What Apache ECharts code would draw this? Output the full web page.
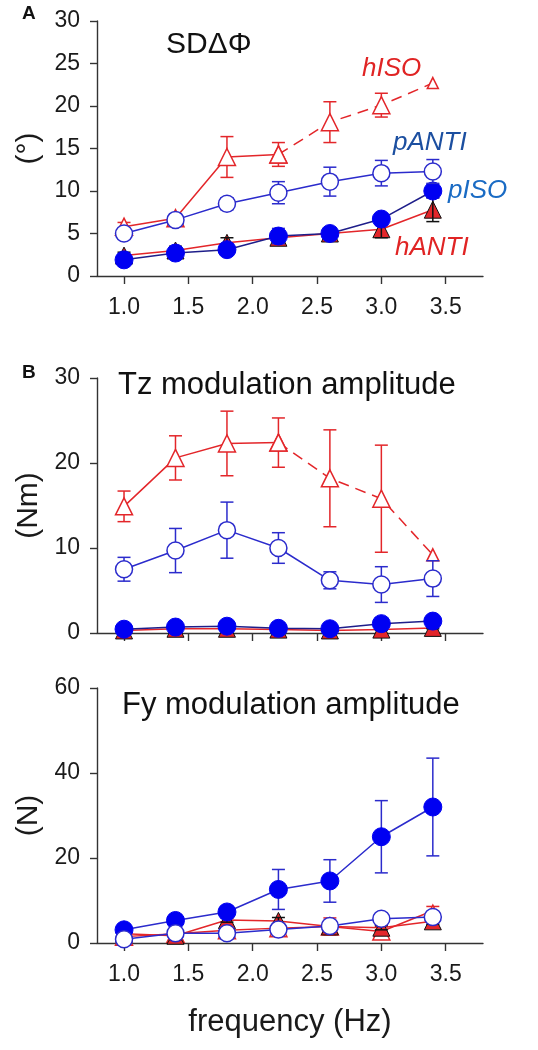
<!DOCTYPE html>
<html><head><meta charset="utf-8">
<script src="https://cdn.jsdelivr.net/npm/echarts@6/dist/echarts.min.js"></script>
<style>html,body{margin:0;padding:0;background:#fff}#c{width:538px;height:1050px}</style>
</head><body><div id="c"></div>
<script>
// ---- data ----
const freq = [1.0, 1.4, 1.8, 2.2, 2.6, 3.0, 3.4];
const xTicks = [1.0, 1.5, 2.0, 2.5, 3.0, 3.5];

// Panel A: SD delta phi (deg)
const sd_hISO = [5.8, 6.8, 14.0, 14.3, 18.1, 20.1, 22.7];
const sd_hISO_err = [0.5, 0.4, 2.4, 1.4, 2.4, 1.4, 0];
const sd_pANTI = [5.0, 6.6, 8.5, 9.8, 11.1, 12.1, 12.3];
const sd_pANTI_err = [0.4, 0.3, 0.7, 1.3, 1.7, 1.5, 1.4];
const sd_pISO = [1.9, 2.7, 3.1, 4.7, 5.0, 6.7, 10.0];
const sd_pISO_err = [0.3, 0.3, 0.3, 0.9, 0.5, 0.6, 0.8];
const sd_hANTI = [2.4, 3.0, 3.9, 4.5, 5.0, 5.5, 7.8];
const sd_hANTI_err = [0.4, 0.5, 0.6, 0.6, 0.5, 1.0, 1.4];

// Panel B: Tz modulation amplitude (Nm)
const tz_hISO = [14.9, 20.6, 22.3, 22.4, 18.2, 15.8, 9.2];
const tz_hISO_err = [1.8, 2.6, 3.8, 2.9, 5.7, 6.3, 0];
const tz_pANTI = [7.5, 9.7, 12.1, 10.0, 6.2, 5.7, 6.4];
const tz_pANTI_err = [1.4, 2.6, 3.3, 1.8, 1.0, 2.1, 2.1];
const tz_pISO = [0.45, 0.7, 0.8, 0.55, 0.5, 1.1, 1.4];
const tz_pISO_err = [0.1, 0.15, 0.1, 0.1, 0.1, 0.2, 0.2];
const tz_hANTI = [0.3, 0.5, 0.5, 0.4, 0.3, 0.4, 0.6];
const tz_hANTI_err = [0.1, 0.1, 0.1, 0.1, 0.1, 0.1, 0.1];

// Panel C: Fy modulation amplitude (N)
const fy_hISO = [1.5, 2.2, 3.0, 3.5, 3.9, 2.7, 7.6];
const fy_hISO_err = [0.3, 0.3, 0.3, 0.4, 2.0, 1.2, 1.0];
const fy_pANTI = [0.9, 2.3, 2.3, 3.2, 4.0, 5.7, 6.1];
const fy_pANTI_err = [0.3, 0.3, 0.3, 0.4, 0.5, 0.5, 0.5];
const fy_pISO = [3.1, 5.3, 7.3, 12.6, 14.6, 25.0, 32.0];
const fy_pISO_err = [0.4, 0.5, 0.8, 4.7, 5.0, 8.5, 11.5];
const fy_hANTI = [2.2, 1.7, 5.4, 5.2, 3.9, 3.6, 5.1];
const fy_hANTI_err = [0.5, 0.9, 0.5, 0.8, 0.5, 0.5, 0.7];

// ---- styles ----
const RED = '#e3262a';
const BLUE = '#0000f2';
const LBLUE = '#2b2bcc';
const NAVY = '#1e1e8a';
const FONT = '"Liberation Sans", Arial, Helvetica, sans-serif';

function pairs(ys, from, to, lastSize) {
  const out = [];
  for (let i = from; i <= to; i++) {
    const item = { value: [freq[i], ys[i]] };
    if (lastSize && i === freq.length - 1) item.symbolSize = lastSize;
    out.push(item);
  }
  return out;
}
function errRows(ys, es) { return freq.map((x, i) => [x, ys[i], es[i]]); }

function errSeries(g, ys, es, color, z) {
  return {
    type: 'custom', xAxisIndex: g, yAxisIndex: g, z: z, silent: true,
    data: errRows(ys, es), encode: { x: 0, y: 1 },
    renderItem: function (params, api) {
      const x = api.value(0), y = api.value(1), e = api.value(2);
      if (!e) return null;
      const t = api.coord([x, y + e]), b = api.coord([x, y - e]);
      const cap = 6.5;
      const st = { stroke: color, lineWidth: 1.5 };
      return { type: 'group', children: [
        { type: 'line', shape: { x1: t[0], y1: t[1], x2: b[0], y2: b[1] }, style: st },
        { type: 'line', shape: { x1: t[0] - cap, y1: t[1], x2: t[0] + cap, y2: t[1] }, style: st },
        { type: 'line', shape: { x1: b[0] - cap, y1: b[1], x2: b[0] + cap, y2: b[1] }, style: st }
      ]};
    }
  };
}
function lineSeries(g, data, opt) {
  return Object.assign({
    type: 'line', xAxisIndex: g, yAxisIndex: g, data: data,
    symbolSize: 17, showAllSymbol: true, silent: true,
    emphasis: { disabled: true }
  }, opt);
}

function panel(g, hISO, hISOe, hANTI, hANTIe, pISO, pISOe, pANTI, pANTIe, dashed, lastSize) {
  const s = [];
  s.push(errSeries(g, hISO, hISOe, RED, 1));
  const hIsoStyle = {
    symbol: 'triangle',
    itemStyle: { color: '#fff', borderColor: RED, borderWidth: 1.5 },
    lineStyle: { color: RED, width: 1.5 }, z: 2
  };
  if (dashed) {
    s.push(lineSeries(g, pairs(hISO, 0, 3, lastSize), hIsoStyle));
    s.push(lineSeries(g, pairs(hISO, 3, 6, lastSize), Object.assign({}, hIsoStyle, {
      lineStyle: { color: RED, width: 1.5, type: [11, 7] }
    })));
  } else {
    s.push(lineSeries(g, pairs(hISO, 0, 6, lastSize), hIsoStyle));
  }
  s.push(lineSeries(g, pairs(hANTI, 0, 6), {
    symbol: 'triangle',
    itemStyle: { color: RED, borderColor: '#111', borderWidth: 1 },
    lineStyle: { color: RED, width: 1.5 }, z: 3
  }));
  s.push(errSeries(g, hANTI, hANTIe, '#111', 4));
  s.push(errSeries(g, pISO, pISOe, LBLUE, 5));
  s.push(lineSeries(g, pairs(pISO, 0, 6), {
    symbol: 'circle', symbolSize: 18,
    itemStyle: { color: BLUE, borderColor: BLUE, borderWidth: 1 },
    lineStyle: { color: g === 2 ? LBLUE : NAVY, width: 1.5 }, z: 6
  }));
  s.push(errSeries(g, pANTI, pANTIe, LBLUE, 7));
  s.push(lineSeries(g, pairs(pANTI, 0, 6), {
    symbol: 'circle',
    itemStyle: { color: '#fff', borderColor: LBLUE, borderWidth: 1.5 },
    lineStyle: { color: LBLUE, width: 1.5 }, z: 8
  }));
  return s;
}

const axisLine = { show: true, onZero: false, lineStyle: { color: '#333', width: 1.4 } };
function xAxis(g, showLabels) {
  return {
    type: 'value', gridIndex: g, min: 0.79, max: 3.79,
    axisLine: axisLine,
    axisTick: { show: true, length: 8, customValues: xTicks, lineStyle: { color: '#333', width: 1.4 } },
    axisLabel: { show: showLabels, customValues: xTicks, formatter: v => v.toFixed(1),
      fontSize: 23, fontFamily: FONT, color: '#1a1a1a', margin: 20 },
    splitLine: { show: false }
  };
}
function yAxis(g, max, interval, name) {
  return {
    type: 'value', gridIndex: g, min: 0, max: max, interval: interval,
    axisLine: axisLine,
    axisTick: { show: true, length: 7, lineStyle: { color: '#333', width: 1.4 } },
    axisLabel: { fontSize: 23, fontFamily: FONT, color: '#1a1a1a', margin: 17 },
    splitLine: { show: false },
    name: name, nameLocation: 'middle', nameRotate: 90, nameGap: 52,
    nameTextStyle: { fontSize: 30, fontFamily: FONT, color: '#1a1a1a' }
  };
}

const xs = [xAxis(0, true), xAxis(1, false), xAxis(2, true)];
xs[2].name = 'frequency (Hz)';
xs[2].nameLocation = 'middle';
xs[2].nameGap = 64;
xs[2].nameTextStyle = { fontSize: 31, fontFamily: FONT, color: '#1a1a1a' };

function txt(x, y, s, size, color, opts) {
  return { type: 'text', x: x, y: y, silent: true,
    style: Object.assign({ text: s, fontSize: size, fontFamily: FONT, fill: color,
      textVerticalAlign: 'middle', textAlign: 'left' }, opts || {}) };
}

const option = {
  animation: false,
  backgroundColor: '#fff',
  grid: [
    { left: 97, width: 386, top: 21, height: 255 },
    { left: 97, width: 386, top: 378, height: 255 },
    { left: 97, width: 386, top: 688, height: 255 }
  ],
  xAxis: xs,
  yAxis: [yAxis(0, 30, 5, '(°)'), yAxis(1, 30, 10, '(Nm)'), yAxis(2, 60, 20, '(N)')],
  series: [].concat(
    panel(0, sd_hISO, sd_hISO_err, sd_hANTI, sd_hANTI_err, sd_pISO, sd_pISO_err, sd_pANTI, sd_pANTI_err, true, 11),
    panel(1, tz_hISO, tz_hISO_err, tz_hANTI, tz_hANTI_err, tz_pISO, tz_pISO_err, tz_pANTI, tz_pANTI_err, true, 12),
    panel(2, fy_hISO, fy_hISO_err, fy_hANTI, fy_hANTI_err, fy_pISO, fy_pISO_err, fy_pANTI, fy_pANTI_err, false, 11)
  ),
  graphic: [
    txt(22, 14, 'A', 19, '#111', { fontWeight: 'bold' }),
    txt(22, 373, 'B', 19, '#111', { fontWeight: 'bold' }),
    txt(166, 45, 'SDΔΦ', 30, '#111'),
    txt(362, 69, 'hISO', 26, '#e02424', { fontStyle: 'italic' }),
    txt(393, 143, 'pANTI', 26, '#1c4fa0', { fontStyle: 'italic' }),
    txt(448, 191, 'pISO', 26, '#1a6bc4', { fontStyle: 'italic' }),
    txt(395, 248, 'hANTI', 26, '#e02424', { fontStyle: 'italic' }),
    txt(118, 385, 'Tz modulation amplitude', 31, '#111'),
    txt(122, 705, 'Fy modulation amplitude', 31, '#111')
  ]
};

const chart = echarts.init(document.getElementById('c'), null, { renderer: 'canvas' });
chart.setOption(option);
</script>
</body></html>
